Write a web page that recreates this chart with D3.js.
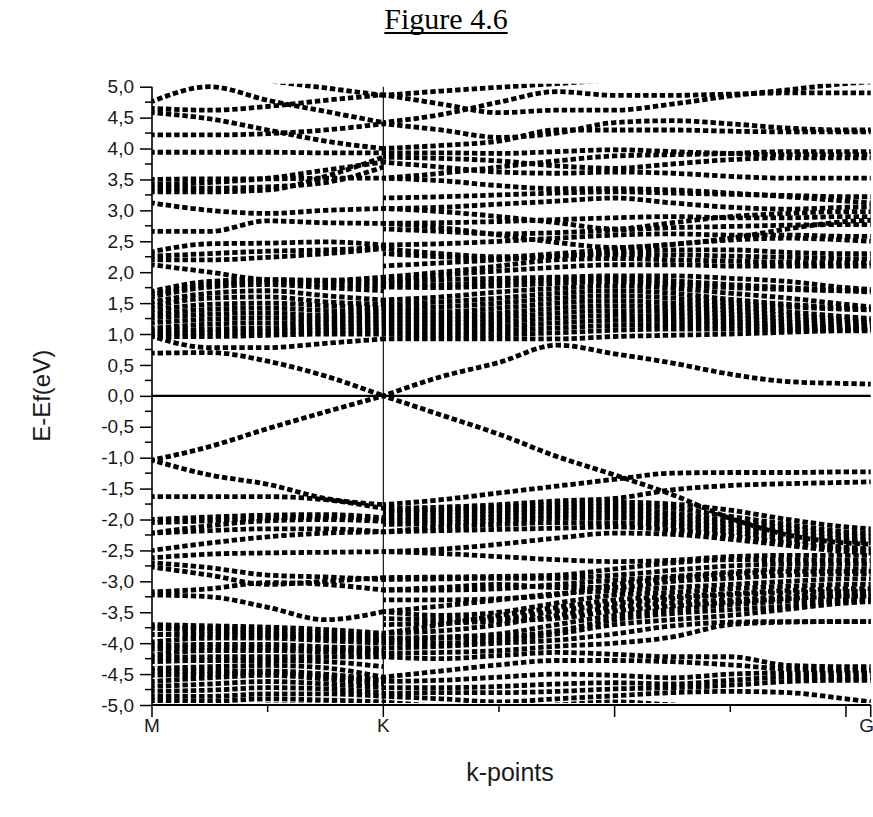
<!DOCTYPE html>
<html>
<head>
<meta charset="utf-8">
<script src="https://cdn.jsdelivr.net/npm/d3@7"></script>
<style>
  html, body { margin: 0; padding: 0; background: #fff; }
  svg { display: block; }
</style>
</head>
<body>
<svg id="chart" width="873" height="817"></svg>
<script>
// k-path nodes (M–K segment and K–G segment), in units of |MK|
const kMK = [0, 0.25, 0.5, 0.75, 1];
const kKG = [1, 1.25, 1.5, 1.75, 2, 2.25, 2.5, 2.75, 3, 3.107];
const kEnd = 3.107;

// symmetry-point labels on the k axis
const symPoints = [
  { label: "M", k: 0 },
  { label: "K", k: 1 },
  { label: "G", k: 3.107 }
];

// energy ticks (eV), labelled with a decimal comma
const energyTicks = [5, 4.5, 4, 3.5, 3, 2.5, 2, 1.5, 1, 0.5, 0, -0.5, -1, -1.5, -2, -2.5, -3, -3.5, -4, -4.5, -5];

// E - Ef (eV) of every band at the M–K nodes
const bandsMK = [
  [4.76, 5.00, 4.78, 4.60, 4.42],
  [5.40, 5.25, 5.10, 4.98, 4.86],
  [4.65, 4.62, 4.68, 4.78, 4.87],
  [4.58, 4.48, 4.30, 4.12, 4.00],
  [4.22, 4.22, 4.24, 4.30, 4.40],
  [3.94, 3.94, 3.94, 3.93, 3.93],
  [3.42, 3.45, 3.52, 3.65, 3.78],
  [3.30, 3.30, 3.33, 3.55, 3.86],
  [3.36, 3.36, 3.38, 3.45, 3.70],
  [3.50, 3.51, 3.51, 3.52, 3.52],
  [3.12, 3.00, 2.95, 3.00, 3.03],
  [2.66, 2.66, 2.83, 2.80, 2.79],
  [2.33, 2.46, 2.47, 2.49, 2.44],
  [2.26, 2.30, 2.34, 2.36, 2.40],
  [2.20, 2.20, 2.24, 2.30, 2.38],
  [2.12, 2.00, 1.88, 1.87, 1.92],
  [1.69, 1.85, 1.88, 1.86, 1.85],
  [1.64, 1.80, 1.84, 1.80, 1.78],
  [1.60, 1.76, 1.80, 1.75, 1.70],
  [1.52, 1.66, 1.70, 1.62, 1.55],
  [1.45, 1.58, 1.60, 1.52, 1.48],
  [1.39, 1.48, 1.50, 1.46, 1.42],
  [1.32, 1.40, 1.42, 1.38, 1.36],
  [1.26, 1.32, 1.34, 1.30, 1.30],
  [1.18, 1.24, 1.26, 1.24, 1.24],
  [1.09, 1.16, 1.18, 1.18, 1.18],
  [1.04, 1.08, 1.10, 1.12, 1.12],
  [1.00, 1.02, 1.04, 1.06, 1.06],
  [0.96, 0.96, 0.98, 1.00, 1.00],
  [0.96, 0.78, 0.78, 0.85, 0.92],
  [0.69, 0.70, 0.56, 0.32, 0.00],
  [-1.04, -0.82, -0.53, -0.26, 0.00],
  [-1.04, -1.28, -1.43, -1.66, -1.76],
  [-1.63, -1.63, -1.63, -1.68, -1.82],
  [-2.00, -1.96, -1.93, -1.92, -1.97],
  [-2.05, -2.02, -1.98, -1.96, -2.00],
  [-2.22, -2.10, -2.02, -2.00, -2.03],
  [-2.22, -2.18, -2.15, -2.15, -2.20],
  [-2.50, -2.38, -2.28, -2.22, -2.20],
  [-2.62, -2.56, -2.54, -2.53, -2.52],
  [-2.77, -2.90, -3.05, -3.00, -2.94],
  [-2.70, -2.78, -2.90, -2.93, -2.97],
  [-3.17, -3.12, -3.02, -3.05, -3.14],
  [-3.22, -3.25, -3.42, -3.62, -3.49],
  [-3.70, -3.72, -3.74, -3.78, -3.84],
  [-3.73, -3.76, -3.79, -3.83, -3.88],
  [-3.76, -3.80, -3.84, -3.88, -3.92],
  [-3.86, -3.86, -3.88, -3.92, -3.96],
  [-3.98, -3.92, -3.92, -3.96, -4.00],
  [-4.04, -4.02, -4.02, -4.06, -4.08],
  [-4.10, -4.07, -4.07, -4.10, -4.12],
  [-4.19, -4.12, -4.12, -4.14, -4.16],
  [-4.24, -4.22, -4.22, -4.22, -4.22],
  [-4.30, -4.28, -4.28, -4.30, -4.38],
  [-4.41, -4.38, -4.36, -4.40, -4.55],
  [-4.45, -4.45, -4.45, -4.50, -4.60],
  [-4.52, -4.50, -4.48, -4.54, -4.62],
  [-4.62, -4.56, -4.52, -4.58, -4.66],
  [-4.70, -4.66, -4.62, -4.66, -4.72],
  [-4.78, -4.76, -4.72, -4.74, -4.80],
  [-4.86, -4.86, -4.82, -4.82, -4.86],
  [-4.92, -4.94, -4.90, -4.92, -4.95],
  [-4.98, -5.05, -5.00, -5.00, -5.02]
];

// E - Ef (eV) of every band at the K–G nodes
const bandsKG = [
  [4.86, 4.93, 4.99, 5.05, 5.10, 5.10, 5.10, 5.10, 5.10, 5.10],
  [4.42, 4.55, 4.75, 4.92, 4.86, 4.86, 4.88, 4.90, 4.90, 4.90],
  [4.87, 4.72, 4.58, 4.62, 4.62, 4.72, 4.85, 4.95, 5.05, 5.08],
  [4.40, 4.30, 4.18, 4.25, 4.42, 4.45, 4.40, 4.33, 4.30, 4.30],
  [4.00, 4.05, 4.12, 4.30, 4.30, 4.30, 4.28, 4.27, 4.27, 4.27],
  [3.93, 3.93, 3.92, 3.95, 3.98, 3.95, 3.92, 3.90, 3.90, 3.90],
  [3.86, 3.84, 3.80, 3.72, 3.68, 3.75, 3.82, 3.85, 3.85, 3.85],
  [3.78, 3.70, 3.62, 3.60, 3.62, 3.60, 3.55, 3.52, 3.52, 3.52],
  [3.52, 3.48, 3.40, 3.35, 3.35, 3.33, 3.28, 3.22, 3.15, 3.12],
  [3.52, 3.60, 3.70, 3.80, 3.88, 3.90, 3.92, 3.95, 3.95, 3.95],
  [3.20, 3.22, 3.25, 3.28, 3.30, 3.28, 3.26, 3.24, 3.22, 3.22],
  [3.03, 3.05, 3.10, 3.15, 3.20, 3.12, 3.05, 3.02, 3.05, 3.06],
  [3.03, 2.98, 2.90, 2.80, 2.70, 2.80, 2.90, 2.95, 2.98, 2.98],
  [2.79, 2.80, 2.82, 2.85, 2.88, 2.90, 2.88, 2.88, 2.90, 2.90],
  [2.79, 2.72, 2.60, 2.48, 2.40, 2.45, 2.55, 2.70, 2.82, 2.84],
  [2.70, 2.66, 2.62, 2.64, 2.68, 2.72, 2.74, 2.76, 2.77, 2.77],
  [2.44, 2.46, 2.50, 2.55, 2.60, 2.62, 2.60, 2.60, 2.58, 2.58],
  [2.38, 2.30, 2.25, 2.30, 2.38, 2.45, 2.52, 2.55, 2.52, 2.50],
  [2.30, 2.25, 2.22, 2.26, 2.32, 2.36, 2.36, 2.32, 2.30, 2.30],
  [2.10, 2.15, 2.20, 2.26, 2.28, 2.28, 2.26, 2.24, 2.22, 2.22],
  [1.92, 2.00, 2.10, 2.20, 2.22, 2.20, 2.18, 2.16, 2.15, 2.15],
  [1.85, 1.95, 2.02, 2.08, 2.12, 2.12, 2.10, 2.10, 2.10, 2.10],
  [1.85, 1.88, 1.90, 1.92, 1.94, 1.94, 1.90, 1.85, 1.75, 1.72],
  [1.80, 1.80, 1.84, 1.88, 1.90, 1.86, 1.80, 1.75, 1.70, 1.68],
  [1.76, 1.75, 1.78, 1.82, 1.85, 1.80, 1.75, 1.72, 1.70, 1.70],
  [1.55, 1.60, 1.68, 1.74, 1.78, 1.74, 1.66, 1.58, 1.48, 1.44],
  [1.48, 1.52, 1.58, 1.66, 1.70, 1.66, 1.56, 1.48, 1.42, 1.40],
  [1.42, 1.44, 1.50, 1.58, 1.62, 1.58, 1.50, 1.44, 1.40, 1.39],
  [1.36, 1.36, 1.42, 1.50, 1.54, 1.50, 1.44, 1.36, 1.28, 1.25],
  [1.30, 1.30, 1.34, 1.42, 1.46, 1.43, 1.38, 1.30, 1.24, 1.22],
  [1.24, 1.24, 1.27, 1.34, 1.38, 1.36, 1.32, 1.24, 1.20, 1.18],
  [1.18, 1.18, 1.20, 1.26, 1.30, 1.29, 1.26, 1.19, 1.15, 1.14],
  [1.12, 1.12, 1.13, 1.18, 1.22, 1.22, 1.20, 1.14, 1.11, 1.10],
  [1.06, 1.05, 1.06, 1.10, 1.14, 1.15, 1.14, 1.10, 1.08, 1.08],
  [1.00, 0.98, 0.99, 1.02, 1.06, 1.08, 1.08, 1.06, 1.05, 1.05],
  [0.92, 0.92, 0.92, 0.92, 0.96, 0.98, 1.00, 1.03, 1.06, 1.07],
  [0.00, 0.31, 0.54, 0.82, 0.68, 0.53, 0.35, 0.23, 0.20, 0.19],
  [0.00, -0.31, -0.62, -0.98, -1.28, -1.60, -1.98, -2.25, -2.38, -2.40],
  [-1.76, -1.68, -1.57, -1.46, -1.35, -1.25, -1.24, -1.24, -1.23, -1.23],
  [-1.82, -1.80, -1.76, -1.70, -1.66, -1.52, -1.45, -1.42, -1.40, -1.39],
  [-1.86, -1.84, -1.80, -1.76, -1.72, -1.75, -1.85, -2.00, -2.12, -2.15],
  [-1.90, -1.88, -1.85, -1.81, -1.78, -1.82, -1.95, -2.08, -2.20, -2.22],
  [-1.97, -1.94, -1.90, -1.86, -1.84, -1.90, -2.02, -2.14, -2.26, -2.28],
  [-2.03, -2.00, -1.96, -1.92, -1.90, -1.97, -2.08, -2.20, -2.32, -2.34],
  [-2.08, -2.06, -2.02, -1.98, -1.97, -2.04, -2.14, -2.26, -2.36, -2.38],
  [-2.20, -2.12, -2.08, -2.05, -2.05, -2.10, -2.20, -2.32, -2.45, -2.47],
  [-2.20, -2.18, -2.16, -2.14, -2.12, -2.17, -2.26, -2.38, -2.48, -2.50],
  [-2.52, -2.48, -2.40, -2.30, -2.22, -2.24, -2.32, -2.42, -2.52, -2.54],
  [-2.52, -2.55, -2.60, -2.65, -2.68, -2.66, -2.60, -2.58, -2.58, -2.58],
  [-2.94, -2.93, -2.92, -2.90, -2.80, -2.70, -2.65, -2.65, -2.66, -2.66],
  [-2.97, -2.96, -2.95, -2.95, -2.90, -2.82, -2.75, -2.72, -2.72, -2.72],
  [-3.14, -3.14, -3.12, -3.05, -2.98, -2.92, -2.85, -2.80, -2.80, -2.80],
  [-3.30, -3.30, -3.28, -3.22, -3.05, -2.95, -2.88, -2.84, -2.84, -2.84],
  [-3.14, -3.10, -3.05, -3.10, -3.10, -3.00, -2.95, -2.90, -2.88, -2.88],
  [-3.49, -3.40, -3.30, -3.20, -3.15, -3.10, -3.05, -3.00, -2.96, -2.96],
  [-3.49, -3.55, -3.50, -3.35, -3.22, -3.18, -3.12, -3.08, -3.05, -3.05],
  [-3.84, -3.70, -3.55, -3.42, -3.30, -3.25, -3.20, -3.15, -3.12, -3.12],
  [-3.60, -3.62, -3.60, -3.48, -3.36, -3.28, -3.22, -3.18, -3.16, -3.16],
  [-3.84, -3.80, -3.70, -3.55, -3.42, -3.35, -3.30, -3.25, -3.20, -3.20],
  [-3.70, -3.68, -3.64, -3.60, -3.48, -3.40, -3.34, -3.28, -3.24, -3.24],
  [-3.92, -3.90, -3.85, -3.70, -3.55, -3.45, -3.38, -3.32, -3.28, -3.28],
  [-3.95, -3.92, -3.90, -3.80, -3.62, -3.52, -3.46, -3.40, -3.31, -3.30],
  [-4.00, -4.00, -3.95, -3.85, -3.70, -3.62, -3.55, -3.45, -3.35, -3.33],
  [-4.08, -4.05, -4.00, -3.95, -3.85, -3.72, -3.66, -3.65, -3.65, -3.65],
  [-4.16, -4.15, -4.12, -4.05, -4.00, -3.90, -3.70, -3.66, -3.65, -3.65],
  [-4.22, -4.25, -4.20, -4.15, -4.18, -4.22, -4.22, -4.36, -4.38, -4.38],
  [-4.55, -4.45, -4.35, -4.28, -4.28, -4.30, -4.35, -4.42, -4.44, -4.44],
  [-4.62, -4.60, -4.55, -4.50, -4.52, -4.56, -4.50, -4.48, -4.48, -4.48],
  [-4.72, -4.72, -4.70, -4.66, -4.64, -4.66, -4.60, -4.55, -4.55, -4.55],
  [-4.81, -4.80, -4.80, -4.78, -4.74, -4.72, -4.68, -4.62, -4.60, -4.60],
  [-4.86, -4.90, -4.95, -4.90, -4.85, -4.80, -4.78, -4.80, -4.90, -4.95],
  [-4.95, -5.02, -5.05, -5.00, -4.95, -5.00, -5.05, -5.10, -5.10, -5.10]
];

const svg = d3.select("#chart");
const plot = { left: 152, right: 870.7, top: 86.7, bottom: 705 };

const x = d3.scaleLinear().domain([0, kEnd]).range([plot.left, plot.right]);
const y = d3.scaleLinear().domain([-5, 5]).range([plot.bottom, plot.top]);

// title
const title = svg.append("text")
  .attr("x", 446).attr("y", 29)
  .attr("text-anchor", "middle")
  .style("font-family", "'Liberation Serif', 'Times New Roman', serif")
  .style("font-size", "30px")
  .attr("fill", "#000")
  .text("Figure 4.6");
const tb = title.node().getBBox();
svg.append("line")
  .attr("x1", tb.x).attr("x2", tb.x + tb.width)
  .attr("y1", 33).attr("y2", 33)
  .attr("stroke", "#000").attr("stroke-width", 1.8);

// clip for the band markers
svg.append("defs").append("clipPath").attr("id", "plotClip")
  .append("rect")
  .attr("x", plot.left - 2).attr("y", plot.top - 3)
  .attr("width", plot.right - plot.left + 4)
  .attr("height", plot.bottom - plot.top + 1);

const bandLine = d3.line()
  .x(d => x(d[0]))
  .y(d => y(d[1]))
  .curve(d3.curveMonotoneX);

const bandsG = svg.append("g").attr("clip-path", "url(#plotClip)");

function drawSegment(ks, bands) {
  bandsG.append("g").selectAll("path")
    .data(bands.map(b => b.map((e, i) => [ks[i], e])))
    .join("path")
    .attr("d", bandLine)
    .attr("fill", "none")
    .attr("stroke", "#000")
    .attr("stroke-width", 4.8)
    .attr("stroke-dasharray", "5.4 2.9")
    .attr("stroke-dashoffset", 2.7);
}
drawSegment(kMK, bandsMK);
drawSegment(kKG, bandsKG);

// Fermi level and K line
svg.append("line")
  .attr("x1", plot.left).attr("x2", plot.right)
  .attr("y1", y(0)).attr("y2", y(0))
  .attr("stroke", "#000").attr("stroke-width", 2.4);
svg.append("line")
  .attr("x1", x(1)).attr("x2", x(1))
  .attr("y1", plot.top).attr("y2", plot.bottom)
  .attr("stroke", "#000").attr("stroke-width", 1.1);

// y axis
const yAxis = d3.axisLeft(y)
  .tickValues(energyTicks)
  .tickSize(12)
  .tickPadding(6)
  .tickFormat(d => d3.format(".1f")(d).replace(".", ",").replace("−", "-"));
const yG = svg.append("g").attr("transform", `translate(${plot.left},0)`).call(yAxis);
yG.select(".domain").attr("stroke-width", 1.6).attr("d", `M0,${plot.top}V${plot.bottom}`);
yG.selectAll(".tick line").attr("stroke-width", 1.5);
yG.selectAll(".tick text")
  .style("font-family", "'Liberation Sans', Arial, sans-serif")
  .style("font-size", "19px").attr("fill", "#1a1a1a");
// minor y ticks
svg.append("g").selectAll("line")
  .data(energyTicks.slice(0, -1).map(v => v - 0.25))
  .join("line")
  .attr("x1", plot.left - 7).attr("x2", plot.left)
  .attr("y1", d => y(d)).attr("y2", d => y(d))
  .attr("stroke", "#000").attr("stroke-width", 1.5);

// x axis
const xMajor = [0, 1, 2, 3];
const xMinor = [0.5, 1.5, 2.5];
const xAxisG = svg.append("g").attr("transform", `translate(0,${plot.bottom})`);
xAxisG.append("line")
  .attr("x1", plot.left).attr("x2", plot.right)
  .attr("stroke", "#000").attr("stroke-width", 1.8);
xAxisG.selectAll(".maj").data(xMajor.concat([kEnd])).join("line")
  .attr("x1", d => x(d)).attr("x2", d => x(d))
  .attr("y1", 0).attr("y2", 12)
  .attr("stroke", "#000").attr("stroke-width", 1.5);
xAxisG.selectAll(".min").data(xMinor).join("line")
  .attr("x1", d => x(d)).attr("x2", d => x(d))
  .attr("y1", 0).attr("y2", 7)
  .attr("stroke", "#000").attr("stroke-width", 1.5);
xAxisG.selectAll("text").data(symPoints).join("text")
  .attr("x", d => d.k === kEnd ? x(d.k) - 4 : x(d.k)).attr("y", 27)
  .attr("text-anchor", "middle")
  .style("font-family", "'Liberation Sans', Arial, sans-serif")
  .style("font-size", "19px").attr("fill", "#1a1a1a")
  .text(d => d.label);

// axis titles
svg.append("text")
  .attr("transform", `translate(50,${y(0)}) rotate(-90)`)
  .attr("text-anchor", "middle")
  .style("font-family", "'Liberation Sans', Arial, sans-serif")
  .style("font-size", "24px").attr("fill", "#1a1a1a")
  .text("E-Ef(eV)");
svg.append("text")
  .attr("x", 510).attr("y", 781)
  .attr("text-anchor", "middle")
  .style("font-family", "'Liberation Sans', Arial, sans-serif")
  .style("font-size", "25px").attr("fill", "#1a1a1a")
  .text("k-points");
</script>
</body>
</html>
